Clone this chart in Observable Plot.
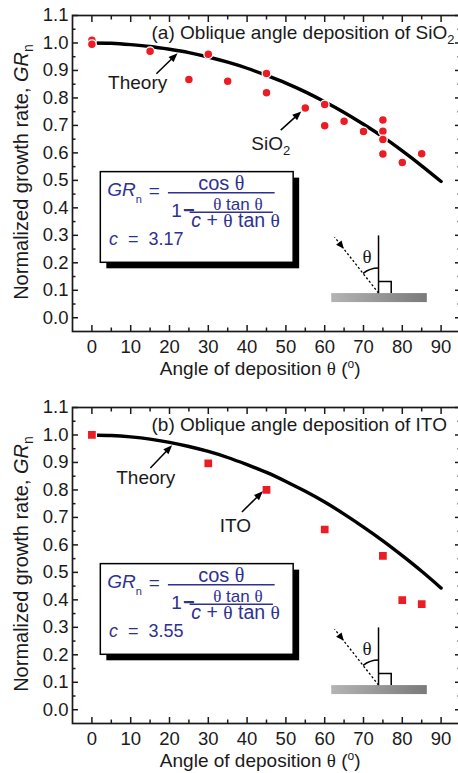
<!DOCTYPE html>
<html><head><meta charset="utf-8">
<script src="https://cdn.jsdelivr.net/npm/d3@7"></script>
<script src="https://cdn.jsdelivr.net/npm/@observablehq/plot@0.6"></script>
<style>
html,body{margin:0;padding:0;background:#fff;overflow:hidden;}
#wrap{position:relative;width:458px;height:773px;overflow:hidden;background:#fff;}
#wrap svg{display:block;max-width:none !important;}
</style></head><body><div id="wrap"></div>
<script>
// ---------- data ----------
const xMajor = [0, 10, 20, 30, 40, 50, 60, 70, 80, 90];
const xMinor = [5, 15, 25, 35, 45, 55, 65, 75, 85];
const yMajor = [0, 0.1, 0.2, 0.3, 0.4, 0.5, 0.6, 0.7, 0.8, 0.9, 1.0, 1.1];
const yMinor = [0.05, 0.15, 0.25, 0.35, 0.45, 0.55, 0.65, 0.75, 0.85, 0.95, 1.05];

const sio2Angle = [0, 0, 15, 25, 30, 35, 45, 45, 55, 60, 60, 65, 70, 75, 75, 75, 75, 80, 85];
const sio2Rate  = [1.01, 0.995, 0.97, 0.867, 0.959, 0.861, 0.889, 0.819, 0.763, 0.776, 0.699, 0.715, 0.678, 0.72, 0.679, 0.649, 0.596, 0.565, 0.597];

const itoAngle = [0, 30, 45, 60, 75, 80, 85];
const itoRate  = [1.0, 0.897, 0.8, 0.656, 0.56, 0.399, 0.384];

const theoryAngle = [0, 5, 10, 15, 20, 25, 30, 35, 40, 45, 50, 55, 60, 65, 70, 75, 80, 85, 90];
const theorySiO2  = [1.000, 0.999, 0.994, 0.987, 0.977, 0.965, 0.949, 0.930, 0.908, 0.882, 0.854, 0.822, 0.786, 0.747, 0.704, 0.658, 0.607, 0.553, 0.496];
const theoryITO   = [1.000, 0.998, 0.993, 0.985, 0.973, 0.958, 0.940, 0.918, 0.892, 0.864, 0.831, 0.795, 0.756, 0.712, 0.665, 0.615, 0.561, 0.504, 0.443];

const titleA = ["(a) Oblique angle deposition of SiO", "2"];
const titleB = ["(b) Oblique angle deposition of ITO", ""];
const cValueA = "3.17";
const cValueB = "3.55";

// ---------- styling ----------
const SANS = "'Liberation Sans', Arial, Helvetica, sans-serif";
const SERIF = "'Liberation Serif', 'DejaVu Serif', serif";
const INK = "#1a1a1a";
const RED = "#ec1c24";
const BLUE = "#2e3192";
const FS = 18.5;   // tick labels
const FT = 19;     // titles / annotations

function arrow(g, x1, y1, x2, y2, headLen = 9, headW = 3.6, sw = 1.5) {
  const dx = x2 - x1, dy = y2 - y1, L = Math.hypot(dx, dy), ux = dx / L, uy = dy / L;
  const bx = x2 - ux * headLen, by = y2 - uy * headLen;
  g.append("line").attr("x1", x1).attr("y1", y1).attr("x2", bx + ux).attr("y2", by + uy)
    .attr("stroke", "#000").attr("stroke-width", sw);
  g.append("path").attr("d", `M${x2},${y2}L${bx - uy * headW},${by + ux * headW}L${bx + uy * headW},${by - ux * headW}Z`)
    .attr("fill", "#000");
}

function panel(cfg) {
  const pts = cfg.angle.map((a, i) => ({angle: a, rate: cfg.rate[i]}));
  const curve = theoryAngle.map((a, i) => ({angle: a, rate: cfg.theory[i]}));
  const chart = Plot.plot({
    width: 460, height: 392,
    marginLeft: 72, marginRight: 0, marginTop: 15, marginBottom: 61,
    x: {domain: [-5, 95]},
    y: {domain: [-0.05, 1.1]},
    style: {fontFamily: SANS, fontSize: FS + "px", color: INK, background: "#fff", overflow: "visible"},
    marks: [
      Plot.axisX(xMajor, {anchor: "bottom", tickSize: -6, tickPadding: 14.5, tickFormat: d => String(d), label: null, strokeWidth: 1.5}),
      Plot.axisX(xMinor, {anchor: "bottom", tickSize: -3.5, tickFormat: () => "", label: null, strokeWidth: 1.5}),
      Plot.axisX(xMajor, {anchor: "top", tickSize: -6, tickFormat: () => "", label: null, strokeWidth: 1.5}),
      Plot.axisX(xMinor, {anchor: "top", tickSize: -3.5, tickFormat: () => "", label: null, strokeWidth: 1.5}),
      Plot.axisY(yMajor, {anchor: "left", tickSize: -6, tickPadding: 10, tickFormat: d => d.toFixed(1), label: null, strokeWidth: 1.5}),
      Plot.axisY(yMinor, {anchor: "left", tickSize: -3.5, tickFormat: () => "", label: null, strokeWidth: 1.5}),
      Plot.axisY(yMajor, {anchor: "right", tickSize: -6, tickFormat: () => "", label: null, strokeWidth: 1.5}),
      Plot.axisY(yMinor, {anchor: "right", tickSize: -3.5, tickFormat: () => "", label: null, strokeWidth: 1.5}),
      Plot.frame({stroke: INK, strokeWidth: 1.7}),
      Plot.line(curve, {x: "angle", y: "rate", curve: "natural", stroke: "#000", strokeWidth: 3.4}),
      Plot.dot(pts, {x: "angle", y: "rate", symbol: cfg.symbol, r: cfg.r, fill: RED, stroke: "#fff", strokeWidth: 1.3})
    ]
  });
  chart.style.maxWidth = "none";

  const xs = chart.scale("x"), ys = chart.scale("y");
  const X = d3.scaleLinear(xs.domain, xs.range);
  const Y = d3.scaleLinear(ys.domain, ys.range);
  const svg = d3.select(chart);
  const g = svg.append("g").attr("font-family", SANS).attr("font-size", FT).attr("fill", INK).attr("text-anchor", "start");

  // panel title
  const t = g.append("text").attr("x", X(15.5)).attr("y", Y(1.0135));
  t.append("tspan").text(cfg.title[0]);
  if (cfg.title[1]) t.append("tspan").attr("dy", 5).attr("font-size", 13).text(cfg.title[1]);

  // x axis title
  const xt = g.append("text").attr("x", X(43.5)).attr("y", 375).attr("text-anchor", "middle");
  xt.append("tspan").text("Angle of deposition ");
  xt.append("tspan").attr("font-family", SERIF).text("θ");
  xt.append("tspan").text(" (");
  xt.append("tspan").attr("dy", -7).attr("font-size", 12).text("o");
  xt.append("tspan").attr("dy", 7).text(")");

  // y axis title
  const yt = g.append("text").attr("transform", `translate(28,${(Y(-0.05) + Y(1.1)) / 2 - 1}) rotate(-90)`)
    .attr("text-anchor", "middle").attr("font-size", 20);
  yt.append("tspan").text("Normalized growth rate, ");
  yt.append("tspan").attr("font-style", "italic").text("GR");
  yt.append("tspan").attr("dy", 5).attr("font-size", 14).text("n");

  // annotations
  const a = cfg.anno;
  g.append("text").attr("x", X(a.theory.tx)).attr("y", Y(a.theory.ty)).text("Theory");
  arrow(g, X(a.theory.x1), Y(a.theory.y1), X(a.theory.x2), Y(a.theory.y2));
  const st = g.append("text").attr("x", X(a.sample.tx)).attr("y", Y(a.sample.ty));
  st.append("tspan").text(a.sample.label[0]);
  if (a.sample.label[1]) st.append("tspan").attr("dy", 5).attr("font-size", 13).text(a.sample.label[1]);
  arrow(g, X(a.sample.x1), Y(a.sample.y1), X(a.sample.x2), Y(a.sample.y2));

  // formula box
  const bx = X(2.3), by = Y(0.53), bw = X(52) - X(2.3), bh = Y(0.2) - Y(0.53);
  g.append("rect").attr("x", bx + 6).attr("y", by + 6).attr("width", bw).attr("height", bh).attr("fill", "#000");
  g.append("rect").attr("x", bx).attr("y", by).attr("width", bw).attr("height", bh).attr("fill", "#fff").attr("stroke", "#000").attr("stroke-width", 1.5);
  const f = g.append("g").attr("fill", BLUE).attr("font-size", 19);
  const gr = f.append("text").attr("x", bx + 7).attr("y", by + 24);
  gr.append("tspan").attr("font-style", "italic").text("GR");
  gr.append("tspan").attr("dy", 7).attr("font-size", 11).text("n");
  f.append("text").attr("x", bx + 48.5).attr("y", by + 25).text("=");
  f.append("line").attr("x1", bx + 67.6).attr("x2", bx + 174.3).attr("y1", by + 21).attr("y2", by + 21).attr("stroke", BLUE).attr("stroke-width", 1.5);
  const num = f.append("text").attr("x", bx + 121).attr("y", by + 18.3).attr("text-anchor", "middle").attr("font-size", 20);
  num.append("tspan").text("cos ");
  num.append("tspan").attr("font-family", SERIF).text("θ");
  const one = f.append("text").attr("x", bx + 71).attr("y", by + 45.5);
  one.append("tspan").text("1");
  one.append("tspan").attr("dx", 1).attr("font-weight", "bold").attr("font-size", 20).text("−");
  f.append("line").attr("x1", bx + 89.3).attr("x2", bx + 172.6).attr("y1", by + 40.6).attr("y2", by + 40.6).attr("stroke", BLUE).attr("stroke-width", 1.5);
  const n2 = f.append("text").attr("x", bx + 137.6).attr("y", by + 38).attr("text-anchor", "middle").attr("font-size", 17);
  n2.append("tspan").attr("font-family", SERIF).text("θ");
  n2.append("tspan").text(" tan ");
  n2.append("tspan").attr("font-family", SERIF).text("θ");
  const d2 = f.append("text").attr("x", bx + 91).attr("y", by + 55).attr("font-size", 19.5);
  d2.append("tspan").attr("font-style", "italic").text("c");
  d2.append("tspan").text(" + ");
  d2.append("tspan").attr("font-family", SERIF).text("θ");
  d2.append("tspan").text(" tan ");
  d2.append("tspan").attr("font-family", SERIF).text("θ");
  const cc = f.append("text").attr("x", bx + 8.6).attr("y", by + 73.5).attr("font-size", 18).style("white-space", "pre");
  cc.append("tspan").attr("font-style", "italic").text("c");
  cc.append("tspan").text("  =  " + cfg.cValue);

  // inset geometry diagram
  const ox = X(74), oy = Y(0.088);
  const gid = "grad" + cfg.id;
  const defs = svg.append("defs");
  const lg = defs.append("linearGradient").attr("id", gid).attr("x1", "0").attr("x2", "1").attr("y1", "0").attr("y2", "0");
  lg.append("stop").attr("offset", "0").attr("stop-color", "#b4b4b4");
  lg.append("stop").attr("offset", "1").attr("stop-color", "#7a7a7a");
  const ins = g.append("g");
  ins.append("rect").attr("x", ox - 47.3).attr("y", oy).attr("width", 95.6).attr("height", 9).attr("fill", `url(#${gid})`);
  ins.append("line").attr("x1", ox).attr("y1", oy).attr("x2", ox).attr("y2", oy - 57.7).attr("stroke", "#000").attr("stroke-width", 1.5);
  ins.append("path").attr("d", `M${ox},${oy - 11.7}H${ox + 12.7}V${oy}`).attr("fill", "none").attr("stroke", "#000").attr("stroke-width", 1.5);
  ins.append("line").attr("x1", ox).attr("y1", oy).attr("x2", ox - 44).attr("y2", oy - 56).attr("stroke", "#000").attr("stroke-width", 1.3).attr("stroke-dasharray", "2.2,2.2");
  const ux = 44 / Math.hypot(44, 56), uy = 56 / Math.hypot(44, 56);
  const hx = ox - 44 + ux * 15, hy = oy - 56 + uy * 15, hb = 8, hw = 3.5;
  ins.append("path").attr("d", `M${hx},${hy}L${hx - ux * hb - uy * hw},${hy - uy * hb + ux * hw}L${hx - ux * hb + uy * hw},${hy - uy * hb - ux * hw}Z`).attr("fill", "#000");
  const R = 25, ang = Math.atan2(44, 56);
  ins.append("path").attr("d", `M${ox},${oy - R}A${R},${R} 0 0 0 ${ox - R * Math.sin(ang)},${oy - R * Math.cos(ang)}`).attr("fill", "none").attr("stroke", "#000").attr("stroke-width", 1.5);
  ins.append("text").attr("x", ox - 11.5).attr("y", oy - 30).attr("text-anchor", "middle").attr("font-family", SERIF).attr("font-size", 19).text("θ");

  return chart;
}

const wrap = document.getElementById("wrap");
wrap.appendChild(panel({
  id: "a", angle: sio2Angle, rate: sio2Rate, theory: theorySiO2, symbol: "circle", r: 4.4,
  title: titleA, cValue: cValueA,
  anno: {
    theory: {tx: 4.3, ty: 0.83, x1: 16.75, y1: 0.886, x2: 22.2, y2: 0.961},
    sample: {label: ["SiO", "2"], tx: 41.2, ty: 0.608, x1: 48.8, y1: 0.681, x2: 54.1, y2: 0.749}
  }
}));
wrap.appendChild(panel({
  id: "b", angle: itoAngle, rate: itoRate, theory: theoryITO, symbol: "square", r: 5.1,
  title: titleB, cValue: cValueB,
  anno: {
    theory: {tx: 6.4, ty: 0.8215, x1: 15.2, y1: 0.878, x2: 20.8, y2: 0.961},
    sample: {label: ["ITO", ""], tx: 33.1, ty: 0.646, x1: 38.8, y1: 0.718, x2: 44.2, y2: 0.793}
  }
}));
</script></body></html>
